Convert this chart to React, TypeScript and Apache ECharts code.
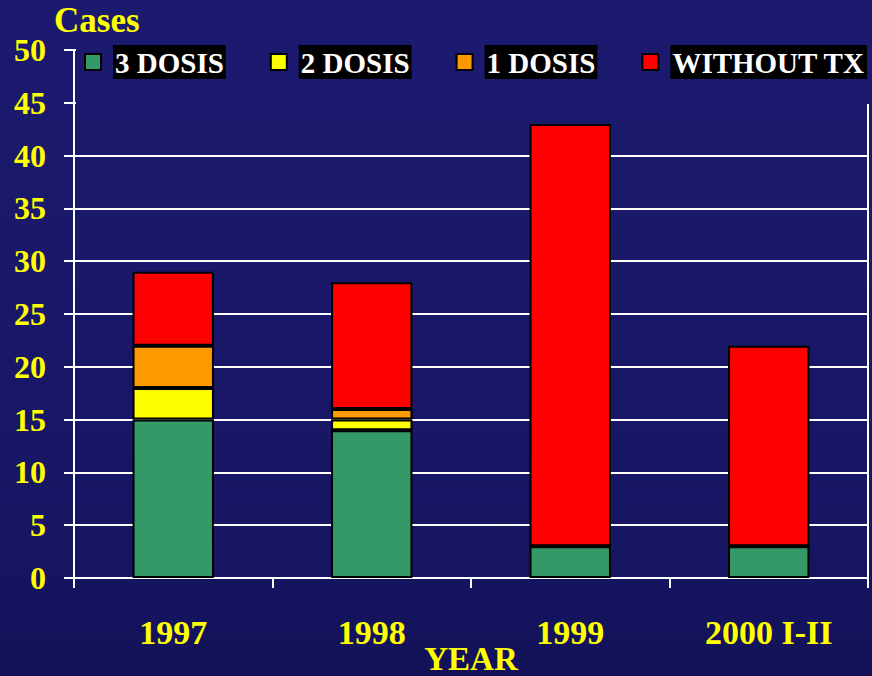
import React, { useEffect, useRef } from "react";
import * as echarts from "echarts";

const categories = ["1997", "1998", "1999", "2000 I-II"];
const dosis3 = [15, 14, 3, 3];
const dosis2 = [3, 1, 0, 0];
const dosis1 = [4, 1, 0, 0];
const withoutTx = [7, 12, 40, 19];
const seriesNames = ["3 DOSIS", "2 DOSIS", "1 DOSIS", "WITHOUT TX"];
const seriesColors = ["#339966", "#ffff00", "#ff9900", "#ff0000"];
const yMax = 50;
const yInterval = 5;

const FONT = "'Liberation Serif', 'Times New Roman', serif";

export default function App() {
  const ref = useRef<HTMLDivElement>(null);
  useEffect(() => {
    if (!ref.current) return;
    const chart = echarts.init(ref.current, null, { renderer: "svg" });
    const dataSets = [dosis3, dosis2, dosis1, withoutTx];
    chart.setOption({
      animation: false,
      backgroundColor: {
        type: "linear",
        x: 0, y: 0, x2: 0, y2: 1,
        colorStops: [
          { offset: 0, color: "#1c1a6f" },
          { offset: 0.8, color: "#171663" },
          { offset: 1, color: "#121158" },
        ],
      },
      title: {
        text: "Cases",
        left: 54,
        top: 3,
        padding: 0,
        textStyle: { color: "#ffff00", fontFamily: FONT, fontWeight: "bold", fontSize: 35 },
      },
      legend: {
        left: 76,
        top: 40,
        width: 800,
        padding: [5, 4, 25, 8],
        backgroundColor: "#1c1a6f",
        itemWidth: 16,
        itemHeight: 16,
        itemGap: 44,
        icon: "rect",
        data: seriesNames,
        formatter: (name: string) => `{s|}{t|${name}}`,
        textStyle: {
          color: "#ffffff",
          fontFamily: FONT,
          fontWeight: "bold",
          fontSize: 29,
          rich: {
            s: { width: 7 },
            t: {
              color: "#ffffff",
              fontFamily: FONT,
              fontWeight: "bold",
              fontSize: 29,
              lineHeight: 30,
              backgroundColor: "#000000",
              padding: [3, 2, 2, 2],
            },
          },
        },
        itemStyle: { borderColor: "#000", borderWidth: 2 },
      },
      grid: {
        left: 74, right: 4, top: 50, bottom: 98,
        containLabel: false, outerBoundsMode: "none",
        show: true, borderColor: "#ffffff", borderWidth: 2, backgroundColor: "transparent",
      },
      xAxis: {
        type: "category",
        data: categories,
        name: "YEAR",
        nameLocation: "middle",
        nameGap: 64,
        nameMoveOverlap: false,
        nameTextStyle: { color: "#ffff00", fontFamily: FONT, fontWeight: "bold", fontSize: 33 },
        axisLine: { onZero: false, lineStyle: { color: "#ffffff", width: 2 } },
        axisTick: { show: true, length: 10, lineStyle: { color: "#ffffff", width: 2 } },
        axisLabel: { color: "#ffff00", fontFamily: FONT, fontWeight: "bold", fontSize: 34, margin: 37 },
      },
      yAxis: [
        {
          type: "value",
          min: 0,
          max: yMax,
          interval: yInterval,
          axisLine: { show: true, onZero: false, lineStyle: { color: "#ffffff", width: 2 } },
          axisTick: { show: true, length: 10, lineStyle: { color: "#ffffff", width: 2 } },
          axisLabel: { color: "#ffff00", fontFamily: FONT, fontWeight: "bold", fontSize: 32, margin: 28 },
          splitLine: { show: true, showMaxLine: false, lineStyle: { color: "#ffffff", width: 2 } },
        },
        {
          type: "value",
          position: "right",
          min: 0,
          max: yMax,
          interval: yInterval,
          axisLine: { show: true, onZero: false, lineStyle: { color: "#ffffff", width: 2 } },
          axisTick: { show: false },
          axisLabel: { show: false },
          splitLine: { show: false },
        },
      ],
      series: dataSets.map((d, i) => ({
        name: seriesNames[i],
        type: "bar",
        stack: "total",
        barWidth: "41%",
        data: d,
        itemStyle: { color: seriesColors[i], borderColor: "#000000", borderWidth: 2 },
      })),
    });
    return () => chart.dispose();
  }, []);
  return (
    <div
      ref={ref}
      style={{ position: "absolute", left: 0, top: 0, width: 872, height: 676 }}
    />
  );
}
